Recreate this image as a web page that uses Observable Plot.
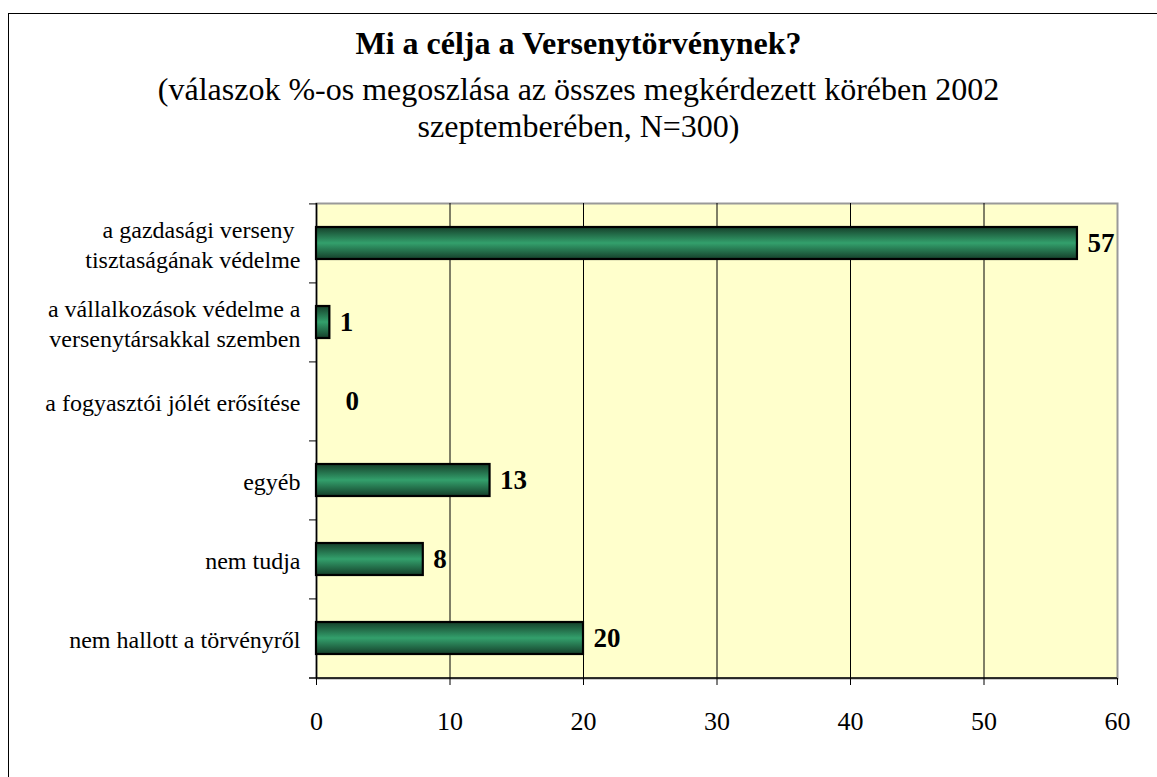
<!DOCTYPE html>
<html><head><meta charset="utf-8">
<script src="https://cdn.jsdelivr.net/npm/d3@7"></script>
<script src="https://cdn.jsdelivr.net/npm/@observablehq/plot@0.6"></script>
<style>
body{margin:0;background:#fff;overflow:hidden;}
#wrap{position:relative;width:1157px;height:777px;overflow:hidden;font-family:"Liberation Serif",serif;color:#000;}
#frame{position:absolute;left:8px;top:13px;width:1170px;height:790px;border:1px solid #000;box-sizing:border-box}
#title{position:absolute;left:0;width:1157px;top:24px;text-align:center;font-weight:bold;font-size:32px;line-height:38px}
#sub{position:absolute;left:0;width:1157px;top:71px;text-align:center;font-size:32px;line-height:37px}
#chart{position:absolute;left:0;top:150px}
</style></head><body>
<div id="wrap"><div id="frame"></div>
<div id="title">Mi a célja a Versenytörvénynek?</div>
<div id="sub">(válaszok %-os megoszlása az összes megkérdezett körében 2002<br>szeptemberében, N=300)</div>
<div id="chart"></div></div>
<script>
const categories = [
  "a gazdasági verseny\u00a0\ntisztaságának védelme",
  "a vállalkozások védelme a\nversenytársakkal szemben",
  "a fogyasztói jólét erősítése",
  "egyéb",
  "nem tudja",
  "nem hallott a törvényről"
];
const values = [57, 1, 0, 13, 8, 20];
const xTicks = [0, 10, 20, 30, 40, 50, 60];
const gridValues = [10, 20, 30, 40, 50];

const data = categories.map((c, i) => ({cat: c, value: values[i]}));

const W = 1157, H = 627, mT = 53, mB = 99, mL = 316, mR = 40;
const padIn = 0.6, padOut = 0.3;
const step = (H - mT - mB) / (categories.length - padIn + 2 * padOut);
const font = '"Liberation Serif",serif';

const defs = () => {
  const ns = "http://www.w3.org/2000/svg";
  const d = document.createElementNS(ns, "defs");
  const g = document.createElementNS(ns, "linearGradient");
  g.setAttribute("id", "barGrad");
  g.setAttribute("x1", "0"); g.setAttribute("y1", "0");
  g.setAttribute("x2", "0"); g.setAttribute("y2", "1");
  [["0%", "#153f2a"], ["50%", "#33a06c"], ["100%", "#153f2a"]].forEach(([o, c]) => {
    const s = document.createElementNS(ns, "stop");
    s.setAttribute("offset", o); s.setAttribute("stop-color", c);
    g.appendChild(s);
  });
  d.appendChild(g);
  return d;
};

const chart = Plot.plot({
  width: W, height: H,
  marginTop: mT, marginBottom: mB, marginLeft: mL, marginRight: mR,
  style: {fontFamily: font, background: "transparent", color: "#000"},
  x: {domain: [0, 60], label: null},
  y: {domain: categories, paddingInner: padIn, paddingOuter: padOut, label: null},
  marks: [
    defs,
    Plot.frame({fill: "#FFFFCC", stroke: "#999999", strokeWidth: 2}),
    Plot.ruleX(gridValues, {stroke: "#000", strokeWidth: 1}),
    Plot.ruleX([0], {stroke: "#000", strokeWidth: 1.5}),
    Plot.ruleY(categories, {y: d => d, dy: -step / 2, stroke: "#000", strokeWidth: 1, dx: -7, insetRight: W - mL - mR - 7}),
    Plot.ruleY(categories.slice(-1), {y: d => d, dy: step / 2, stroke: "#000", strokeWidth: 1.5, insetLeft: -7}),
    Plot.barX(data, {x: "value", y: "cat", fill: "url(#barGrad)", stroke: "#000", strokeWidth: 2.2}),
    Plot.text(data.filter(d => d.value > 0), {x: "value", y: "cat", text: d => String(d.value), dx: 10, textAnchor: "start", fontWeight: "bold", fontSize: 27}),
    Plot.text(data.filter(d => d.value === 0), {x: "value", y: "cat", text: d => String(d.value), dx: 29, textAnchor: "start", fontWeight: "bold", fontSize: 27}),
    Plot.axisX(xTicks, {tickSize: 7, tickPadding: 26, fontSize: 26, stroke: "#000"}),
    Plot.axisY({tickSize: 0, tickPadding: 16, fontSize: 24, lineHeight: 1.25})
  ]
});
document.getElementById("chart").appendChild(chart);
</script>
</body></html>
